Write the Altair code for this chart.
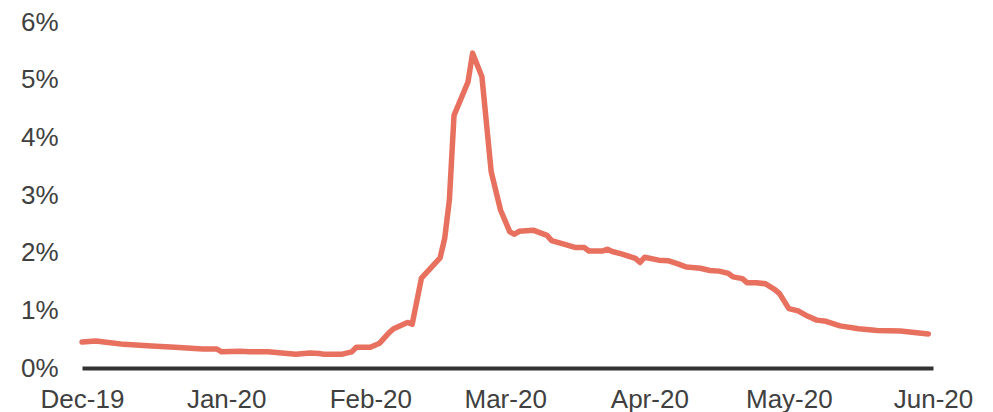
import altair as alt
import pandas as pd

dates = [
    "2019-12-01", "2019-12-04", "2019-12-08", "2019-12-10", "2019-12-16", "2019-12-21",
    "2019-12-27", "2019-12-30", "2019-12-31", "2020-01-04", "2020-01-06", "2020-01-10",
    "2020-01-16", "2020-01-19", "2020-01-21", "2020-01-22", "2020-01-26", "2020-01-28",
    "2020-01-29", "2020-02-01", "2020-02-03", "2020-02-05", "2020-02-06", "2020-02-09",
    "2020-02-10", "2020-02-12", "2020-02-16", "2020-02-17", "2020-02-18", "2020-02-19",
    "2020-02-22", "2020-02-23", "2020-02-25", "2020-02-27", "2020-02-29", "2020-03-02",
    "2020-03-03", "2020-03-04", "2020-03-07", "2020-03-09", "2020-03-10", "2020-03-11",
    "2020-03-14", "2020-03-16", "2020-03-18", "2020-03-19", "2020-03-22", "2020-03-23",
    "2020-03-24", "2020-03-26", "2020-03-29", "2020-03-30", "2020-03-31", "2020-04-03",
    "2020-04-05", "2020-04-07", "2020-04-09", "2020-04-12", "2020-04-14", "2020-04-16",
    "2020-04-18", "2020-04-19", "2020-04-21", "2020-04-22", "2020-04-24", "2020-04-26",
    "2020-04-28", "2020-04-29", "2020-05-01", "2020-05-03", "2020-05-05", "2020-05-07",
    "2020-05-09", "2020-05-12", "2020-05-16", "2020-05-20", "2020-05-25", "2020-05-31",
]
values = [
    0.45, 0.47, 0.43, 0.41, 0.38, 0.36,
    0.33, 0.33, 0.28, 0.29, 0.28, 0.28,
    0.24, 0.26, 0.25, 0.24, 0.24, 0.28,
    0.36, 0.36, 0.43, 0.61, 0.68, 0.79,
    0.76, 1.56, 1.91, 2.25, 2.91, 4.38,
    4.96, 5.46, 5.05, 3.40, 2.74, 2.36,
    2.32, 2.37, 2.39, 2.33, 2.30, 2.21,
    2.14, 2.09, 2.09, 2.03, 2.03, 2.06,
    2.02, 1.98, 1.90, 1.83, 1.92, 1.87,
    1.86, 1.81, 1.75, 1.73, 1.69, 1.68,
    1.64, 1.58, 1.55, 1.48, 1.48, 1.46,
    1.36, 1.29, 1.03, 0.99, 0.90, 0.83,
    0.81, 0.73, 0.68, 0.65, 0.64, 0.59,
]
month_ticks = ["2019-12-01", "2020-01-01", "2020-02-01", "2020-03-01",
               "2020-04-01", "2020-05-01", "2020-06-01"]
y_ticks = [0, 1, 2, 3, 4, 5, 6]

df = pd.DataFrame({"date": dates, "value": values})


def dt(s):
    y, m, d = (int(p) for p in s.split("-"))
    return alt.DateTime(year=y, month=m, date=d, utc=True)


FONT = "Liberation Sans"
TXT = "#404040"

chart = (
    alt.Chart(df)
    .mark_line(color="#E8705F", strokeWidth=5.5, strokeCap="round", strokeJoin="round")
    .encode(
        x=alt.X(
            "date:T",
            scale=alt.Scale(type="utc", domain=[dt(month_ticks[0]), dt(month_ticks[-1])]),
            axis=alt.Axis(
                title=None,
                values=[dt(s) for s in month_ticks],
                format="%b-%y",
                ticks=False,
                grid=False,
                domain=True,
                domainColor="#333333",
                domainWidth=4,
                labelFont=FONT,
                labelFontSize=26,
                labelColor=TXT,
                labelPadding=18,
                labelFlush=False,
                labelOverlap=False,
                labelBound=False,
            ),
        ),
        y=alt.Y(
            "value:Q",
            scale=alt.Scale(domain=[0, 6], nice=False),
            axis=alt.Axis(
                title=None,
                values=y_ticks,
                labelExpr="datum.value + '%'",
                ticks=False,
                grid=False,
                domain=False,
                labelFont=FONT,
                labelFontSize=26,
                labelColor=TXT,
                labelPadding=24,
            ),
        ),
    )
    .properties(
        width=851,
        height=346,
        autosize=alt.AutoSizeParams(type="none"),
        padding={"left": 74, "top": 14, "right": 50, "bottom": 44},
    )
    .configure_view(stroke=None)
)

chart.save("out.html", embed_options={"renderer": "svg", "actions": False})
